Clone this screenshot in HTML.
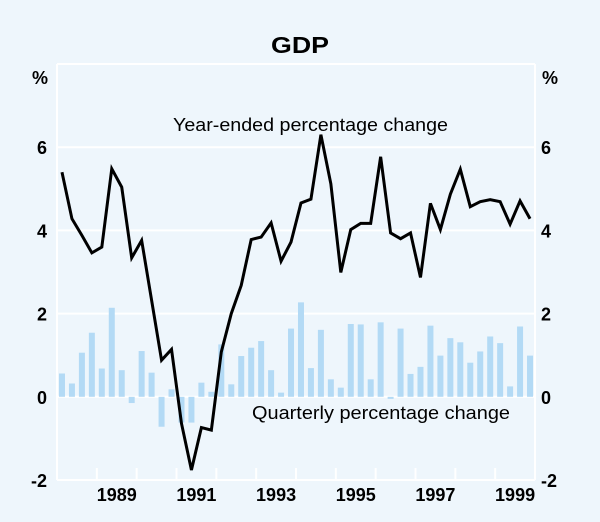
<!DOCTYPE html>
<html><head><meta charset="utf-8"><style>
body{margin:0;background:#eef6fc;}
svg{display:block;font-family:"Liberation Sans",Arial,sans-serif;}
</style></head><body>
<svg id="chart" width="600" height="522" viewBox="0 0 600 522">
<rect x="0" y="0" width="600" height="522" fill="#eef6fc"/>
<text x="300" y="53" text-anchor="middle" font-size="23" font-weight="bold" textLength="58" lengthAdjust="spacingAndGlyphs" fill="#000">GDP</text>
<text x="40" y="84" text-anchor="middle" font-size="18" font-weight="bold">%</text>
<text x="550" y="84" text-anchor="middle" font-size="18" font-weight="bold">%</text>
<g id="grid"></g><g id="bars"></g><g id="line"></g><g id="axes"></g>
<text x="173" y="131" font-size="18" textLength="275" lengthAdjust="spacingAndGlyphs">Year-ended percentage change</text>
<text x="252" y="419" font-size="18" textLength="258" lengthAdjust="spacingAndGlyphs">Quarterly percentage change</text>
</svg>
<script>
const quarterly=[0.56,0.32,1.06,1.54,0.68,2.14,0.64,-0.15,1.1,0.58,-0.72,0.18,-0.62,-0.62,0.34,0.12,1.26,0.3,0.98,1.18,1.34,0.64,0.1,1.64,2.27,0.69,1.61,0.42,0.22,1.75,1.74,0.42,1.79,-0.05,1.64,0.55,0.72,1.71,0.99,1.41,1.31,0.82,1.09,1.45,1.29,0.25,1.69,0.99];
const yearEnded=[5.4,4.28,3.88,3.46,3.6,5.48,5.04,3.34,3.76,2.32,0.88,1.14,-0.64,-1.76,-0.74,-0.8,1.08,2.0,2.68,3.78,3.84,4.18,3.26,3.72,4.66,4.75,6.3,5.12,2.99,4.02,4.17,4.17,5.77,3.94,3.8,3.94,2.87,4.65,4.02,4.87,5.47,4.57,4.69,4.74,4.69,4.15,4.71,4.28];
const yTicks=[-2,0,2,4,6];
const yearLabels=["1989","1991","1993","1995","1997","1999"];
const startYear=1988, nYears=12;
const L=57,R=535,T=64,B=480,yMin=-2,yMax=8;
const ns="http://www.w3.org/2000/svg";
const yS=v=>B-(v-yMin)/(yMax-yMin)*(B-T);
const qw=(R-L)/(nYears*4);
const xQ=i=>L+(i+0.5)*qw;
const xY=y=>L+(y-startYear)*4*qw;
function mk(tag,attrs,parent){const e=document.createElementNS(ns,tag);for(const k in attrs)e.setAttribute(k,attrs[k]);document.getElementById(parent).appendChild(e);return e;}
yTicks.forEach(v=>{
 const g=mk('line',{x1:L,x2:R,y1:yS(v),y2:yS(v),stroke:'#fff','stroke-width':2},'grid');
 
 
 const a=mk('text',{x:47,y:yS(v)+7,'text-anchor':'end','font-size':18,'font-weight':'bold'},'axes');a.textContent=v;
 
 
 const b=mk('text',{x:541,y:yS(v)+7,'text-anchor':'start','font-size':18,'font-weight':'bold'},'axes');b.textContent=v;
 
 
});
const topBorder=mk('line',{x1:L,x2:R,y1:T,y2:T,stroke:'#fff','stroke-width':2},'grid');


[L,R].forEach(x=>{const e=mk('line',{x1:x,x2:x,y1:T,y2:B,stroke:'#fff','stroke-width':2},'grid');
 
 });
quarterly.forEach((v,i)=>{
 const y0=yS(0),y1=yS(v);
 const r=mk('rect',{x:xQ(i)-3,width:6,y:Math.min(y0,y1),height:Math.max(0.8,Math.abs(y1-y0)),fill:'#b3daf5'},'bars');
 
 
});
const p=mk('polyline',{points:yearEnded.map((v,i)=>xQ(i)+','+yS(v)).join(' '),fill:'none',stroke:'#000','stroke-width':3,'stroke-linejoin':'miter'},'line');


for(let k=0;k<=nYears;k++){
 const x=xY(startYear+k);
 const t=mk('line',{x1:x,x2:x,y1:B-12,y2:B,stroke:'#fff','stroke-width':2},'axes');
 
 
}
yearLabels.forEach(s=>{
 const y=+s;
 const t=mk('text',{x:(xY(y)+xY(y+1))/2,y:501,'text-anchor':'middle','font-size':18,'font-weight':'bold'},'axes');t.textContent=s;
 
 
});
</script>
</body></html>
